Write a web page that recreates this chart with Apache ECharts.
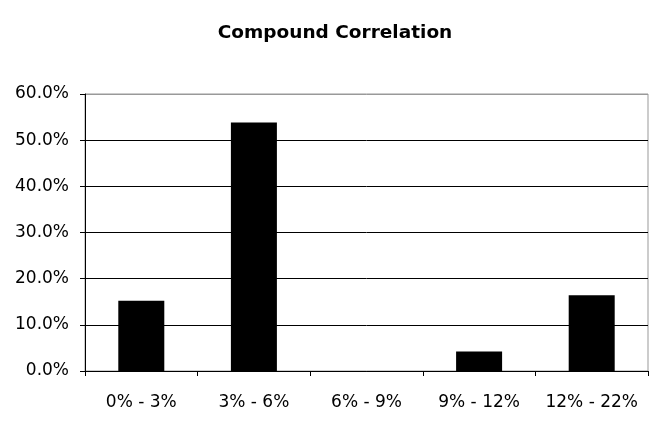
<!DOCTYPE html>
<html>
<head>
<meta charset="utf-8">
<script src="https://cdn.jsdelivr.net/npm/echarts@6/dist/echarts.min.js"></script>
<style>html,body{margin:0;padding:0;background:#fff}#c{width:657px;height:436px}</style>
</head>
<body>
<div id="c"></div>
<script>
var titleText = 'Compound Correlation';
var categories = ['0% - 3%', '3% - 6%', '6% - 9%', '9% - 12%', '12% - 22%'];
var values = [15.2, 53.8, 0, 4.2, 16.4];
var yMin = 0, yMax = 60, yStep = 10;

var chart = echarts.init(document.getElementById('c'));
chart.setOption({
  animation: false,
  backgroundColor: '#fff',
  title: {
    text: titleText, left: 330, top: 19, textAlign: 'center',
    textStyle: { fontFamily: 'DejaVu Sans', fontSize: 18.5, fontWeight: 'bold', color: '#000' }
  },
  grid: { left: 85, right: 9, top: 94, bottom: 65, show: true, borderColor: '#999', borderWidth: 1 },
  xAxis: {
    type: 'category', data: categories,
    axisLine: { lineStyle: { color: '#000', width: 1 } },
    axisTick: { show: true, length: 5, lineStyle: { color: '#000' } },
    axisLabel: { fontFamily: 'DejaVu Sans', fontSize: 17, color: '#000', margin: 23, interval: 0, hideOverlap: false }
  },
  yAxis: {
    type: 'value', min: yMin, max: yMax, interval: yStep,
    axisLine: { show: true, lineStyle: { color: '#000', width: 1 } },
    axisTick: { show: true, length: 5, lineStyle: { color: '#000' } },
    axisLabel: { fontFamily: 'DejaVu Sans', fontSize: 17, color: '#000', margin: 16,
      formatter: function (v) { return v.toFixed(1) + '%'; } },
    splitLine: { show: true, lineStyle: { color: ['#000','#000','#000','#000','#000','#000','#999'], width: 1 } }
  },
  series: [{
    type: 'bar', data: values, barWidth: 46,
    itemStyle: { color: '#000' }
  }]
});
</script>
</body>
</html>
